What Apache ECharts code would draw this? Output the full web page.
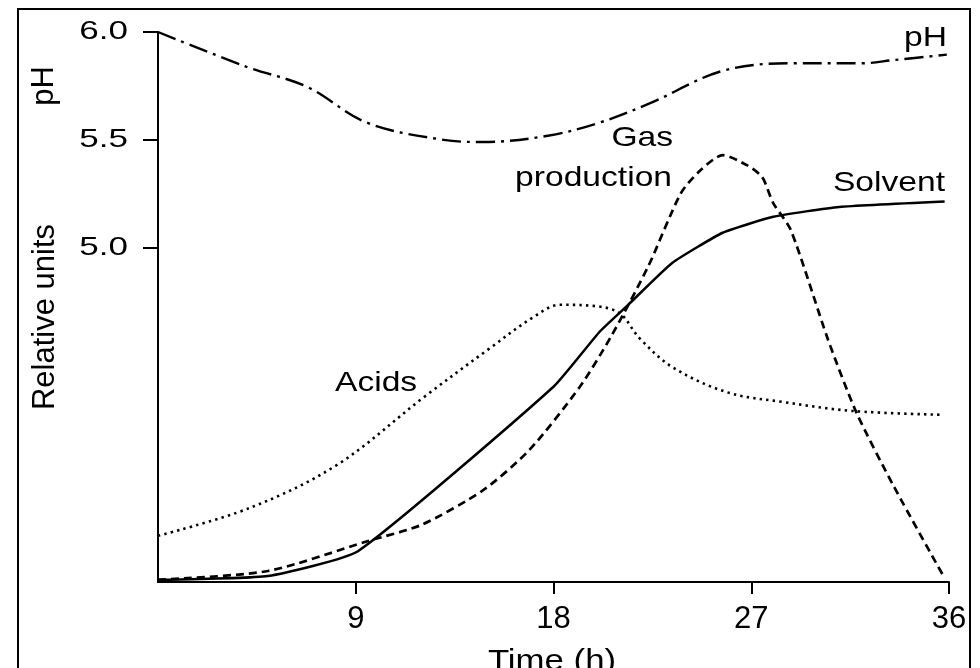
<!DOCTYPE html>
<html>
<head>
<meta charset="utf-8">
<script src="https://cdn.jsdelivr.net/npm/echarts@6/dist/echarts.min.js"></script>
<style>
  html, body { margin: 0; padding: 0; background: #fff; }
  #chart { width: 980px; height: 668px; }
</style>
</head>
<body>
<div id="chart"></div>
<script>
// Tick labels
const hourTicks = [9, 18, 27, 36];
const phTicks = [5.0, 5.5, 6.0];

// pH of the culture (left scale)
const phHours  = [0, 4.0, 6.8, 9.5, 13.0, 14.8, 17.8, 20.1, 22.4, 25.7, 28.9, 32.0, 33.5, 35.9];
const phValues = [6.00, 5.84, 5.745, 5.58, 5.50, 5.49, 5.52, 5.58, 5.67, 5.82, 5.855, 5.855, 5.87, 5.895];

// Relative units (0-100, unlabelled scale)
const acidHours  = [0, 4.2, 8.15, 12.1, 15.0, 17.1, 18.3, 19.8, 21.0, 21.9, 23.4, 25.9, 28.5, 31.6, 35.7];
const acidValues = [8.4, 13.5, 21.3, 33.6, 42.2, 48.2, 50.4, 50.2, 48.9, 44.4, 39.1, 34.5, 32.7, 31.1, 30.4];

const solventHours  = [0, 5.0, 9.1, 18.0, 20.1, 21.4, 23.4, 25.7, 28.0, 31.0, 35.8];
const solventValues = [0.4, 1.1, 5.6, 35.5, 45.5, 50.4, 58.0, 63.5, 66.4, 68.2, 69.2];

const gasHours  = [0, 5.0, 9.6, 12.0, 14.8, 16.9, 19.2, 20.6, 22.3, 23.8, 24.7, 25.7, 26.8, 27.5, 28.0, 28.8, 30.5, 31.8, 33.5, 35.8];
const gasValues = [0.4, 2.0, 7.5, 10.4, 16.7, 24.0, 35.5, 44.5, 57.3, 70.7, 74.9, 77.6, 75.8, 73.6, 68.9, 64.0, 44.0, 30.7, 17.3, 0.7];

const FONT = '"Liberation Sans", Helvetica, Arial, sans-serif';
const INK = '#000';

function pairs(xs, ys) { return xs.map((x, i) => [x, ys[i]]); }

const chart = echarts.init(document.getElementById('chart'));

chart.setOption({
  animation: false,
  backgroundColor: '#fff',
  grid: { left: 158, right: 31, top: 32, bottom: 86, containLabel: false },
  xAxis: {
    type: 'value', min: 0, max: 36,
    axisLine: { lineStyle: { color: INK, width: 2 } },
    axisTick: { customValues: hourTicks, length: 12, lineStyle: { color: INK, width: 2 } },
    axisLabel: { customValues: hourTicks, color: INK, fontSize: 31, fontFamily: FONT, margin: 22 },
    splitLine: { show: false }
  },
  yAxis: [
    {
      type: 'value', min: 3.45, max: 6.0,
      axisLine: { show: true, lineStyle: { color: INK, width: 2 } },
      axisTick: { show: true, customValues: phTicks, length: 15, lineStyle: { color: INK, width: 2 } },
      axisLabel: { show: false },
      splitLine: { show: false }
    },
    {
      type: 'value', min: 0, max: 100, show: false,
      splitLine: { show: false }
    }
  ],
  series: [
    {
      name: 'pH', type: 'line', yAxisIndex: 0, symbol: 'none', smooth: 0.35,
      data: pairs(phHours, phValues),
      lineStyle: { color: INK, width: 2.4, type: [19, 6, 3, 6] }
    },
    {
      name: 'Acids', type: 'line', yAxisIndex: 1, symbol: 'none', smooth: 0.35,
      data: pairs(acidHours, acidValues),
      lineStyle: { color: INK, width: 2.6, type: [2.4, 4.2] }
    },
    {
      name: 'Solvent', type: 'line', yAxisIndex: 1, symbol: 'none', smooth: 0.15,
      data: pairs(solventHours, solventValues),
      lineStyle: { color: INK, width: 2.5 }
    },
    {
      name: 'Gas production', type: 'line', yAxisIndex: 1, symbol: 'none', smooth: 0.25,
      data: pairs(gasHours, gasValues),
      lineStyle: { color: INK, width: 2.7, type: [8, 5] }
    }
  ]
});

function label(text, x, y, size, align, opts) {
  return Object.assign({
    type: 'text', x: x, y: y, silent: true,
    style: { text: text, fill: INK, fontSize: size, fontFamily: FONT, align: align, verticalAlign: 'middle' }
  }, opts || {});
}

// pH tick labels, placed from the pH axis scale
const axisX = chart.convertToPixel({ xAxisIndex: 0 }, 0);
const phLabels = phTicks.map(v =>
  label(v.toFixed(1), axisX - 30, chart.convertToPixel({ yAxisIndex: 0 }, v), 25, 'right', { scaleX: 1.4 })
);

chart.setOption({
  graphic: [
    { type: 'rect', silent: true, shape: { x: 18, y: 9, width: 952, height: 700 },
      style: { fill: 'none', stroke: INK, lineWidth: 2 } },
    label('pH', 44, 86, 31, 'center', { rotation: Math.PI / 2 }),
    label('Relative units', 45, 317, 31, 'center', { rotation: Math.PI / 2 }),
    label('Time (h)', 552, 662, 29, 'center', { scaleX: 1.2 }),
    label('pH', 947, 38, 28, 'right', { scaleX: 1.2 }),
    label('Solvent', 945, 183, 28, 'right', { scaleX: 1.2 }),
    label('Gas', 673, 138, 28, 'right', { scaleX: 1.2 }),
    label('production', 672, 178, 28, 'right', { scaleX: 1.2 }),
    label('Acids', 335, 383, 28, 'left', { scaleX: 1.2 })
  ].concat(phLabels)
});
</script>
</body>
</html>
